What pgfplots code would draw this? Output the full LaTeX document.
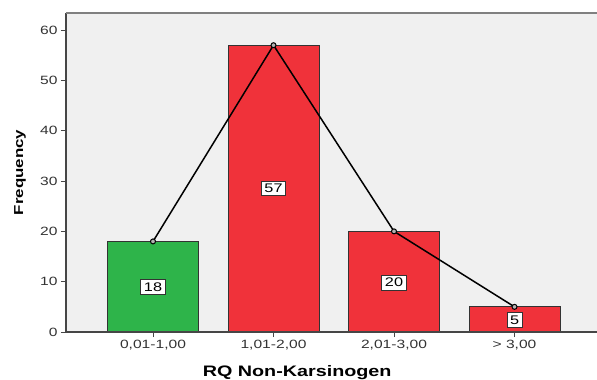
\documentclass[border=0pt]{standalone}
\usepackage{fontspec}
\setmainfont{Liberation Sans}[FakeStretch=1.3]
\usepackage{pgfplots}
\pgfplotsset{compat=1.18}
\definecolor{bargreen}{RGB}{46,180,74}
\definecolor{barred}{RGB}{240,50,58}
\definecolor{bgray}{RGB}{240,240,240}
\definecolor{axdark}{RGB}{70,70,70}
\definecolor{topgray}{RGB}{128,128,128}
\begin{document}
\begin{tikzpicture}
\begin{axis}[
  at={(0,0)}, anchor=south west,
  scale only axis,
  width=540.1pt, height=319pt,
  xmin=-0.722, xmax=3.76,
  ymin=0, ymax=63.4,
  axis background/.style={fill=bgray},
  axis line style={draw=none},
  tick align=outside, tick pos=left,
  major tick length=5pt,
  tick style={axdark, line width=1pt},
  xtick={0,1,2,3},
  xticklabels={{0,01-1,00},{1,01-2,00},{2,01-3,00},{> 3,00}},
  ytick={0,10,20,30,40,50,60},
  /pgf/number format/assume math mode=true,
  ticklabel style={font=\fontsize{12}{14}\selectfont, text=black!80},
  xlabel={RQ Non-Karsinogen},
  ylabel={Frequency},
  xlabel style={font=\fontsize{15.2}{18}\selectfont\bfseries, at={(axis description cs:0.428,-0.1285)}, anchor=center},
  ylabel style={font=\fontsize{13}{15}\selectfont\bfseries, at={(axis description cs:-0.0852,0.5)}, anchor=center},
  clip=false,
]
\addplot[ybar, bar width=91pt, fill=bargreen, draw=black!80, line width=1pt] coordinates {(0,18)};
\addplot[ybar, bar width=91pt, fill=barred, draw=black!80, line width=1pt] coordinates {(1,57) (2,20) (3,5)};
\addplot[black, line width=1.5pt, mark=*, mark size=2.5pt, mark options={fill=gray!60, draw=black, line width=1pt}] coordinates {(0,18) (1,57) (2,20) (3,5)};
\addplot[draw=none, mark=none, nodes near coords, point meta=explicit symbolic,
  every node near coord/.style={anchor=center, draw=black!80, fill=white, line width=1pt, inner sep=3pt, font=\fontsize{12.5}{14}\selectfont, text=black}]
  coordinates {(0,9) [18] (1,28.5) [57] (2,9.8) [20] (3,2.4) [5]};
\draw[axdark, line width=1.5pt] (rel axis cs:0,0) -- (rel axis cs:0,1);
\draw[axdark, line width=1.5pt] (rel axis cs:0,0) -- (rel axis cs:1,0);
\draw[topgray, line width=2pt] (rel axis cs:0,1) -- (rel axis cs:1,1);
\end{axis}
\pgfresetboundingbox
\useasboundingbox (-66pt,-48pt) rectangle (531pt,332pt);
\end{tikzpicture}
\end{document}
